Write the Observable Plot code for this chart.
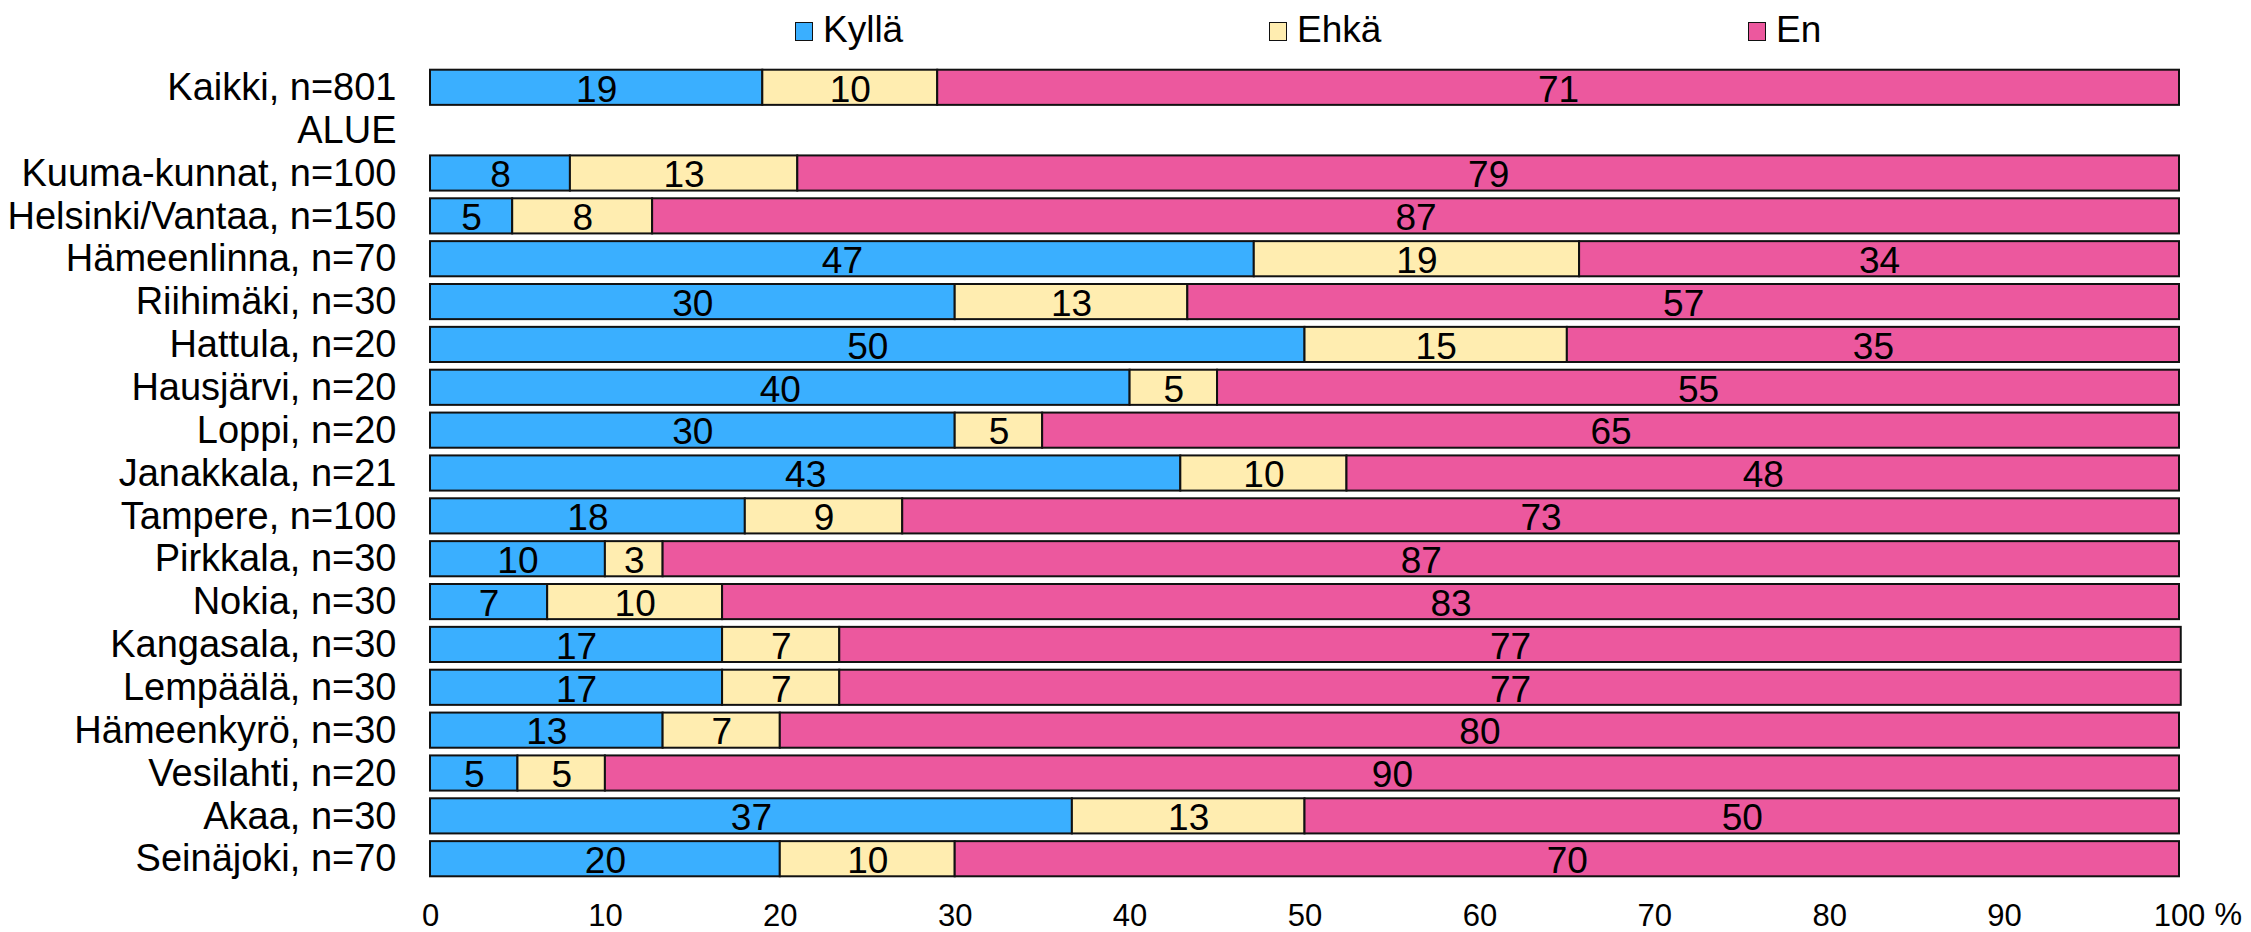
<!DOCTYPE html>
<html>
<head>
<meta charset="utf-8">
<script src="https://cdn.jsdelivr.net/npm/d3@7"></script>
<script src="https://cdn.jsdelivr.net/npm/@observablehq/plot@0.6"></script>
<style>
  html, body { margin: 0; padding: 0; background: #fff; }
  #wrap { position: relative; width: 2251px; height: 932px; font-family: "Liberation Sans", Arial, sans-serif; }
  #legend { position: absolute; top: 0; left: 0; width: 2251px; height: 60px; }
  .item { position: absolute; top: 8px; display: flex; align-items: center; font-size: 37px; color: #000; line-height: 44px; }
  .sw { width: 16px; height: 17px; border: 1.5px solid #111; margin-right: 10px; margin-top: 3px; }
  #chart { position: absolute; top: 0; left: 0; }
</style>
</head>
<body>
<div id="wrap">
  <div id="chart"></div>
  <div id="legend"></div>
</div>
<script>
// Categories (rows, top to bottom); "ALUE" is a heading row without data
const rows = [
  "Kaikki, n=801", "ALUE", "Kuuma-kunnat, n=100", "Helsinki/Vantaa, n=150",
  "Hämeenlinna, n=70", "Riihimäki, n=30", "Hattula, n=20", "Hausjärvi, n=20",
  "Loppi, n=20", "Janakkala, n=21", "Tampere, n=100", "Pirkkala, n=30",
  "Nokia, n=30", "Kangasala, n=30", "Lempäälä, n=30", "Hämeenkyrö, n=30",
  "Vesilahti, n=20", "Akaa, n=30", "Seinäjoki, n=70"
];
const dataRows = [
  "Kaikki, n=801", "Kuuma-kunnat, n=100", "Helsinki/Vantaa, n=150",
  "Hämeenlinna, n=70", "Riihimäki, n=30", "Hattula, n=20", "Hausjärvi, n=20",
  "Loppi, n=20", "Janakkala, n=21", "Tampere, n=100", "Pirkkala, n=30",
  "Nokia, n=30", "Kangasala, n=30", "Lempäälä, n=30", "Hämeenkyrö, n=30",
  "Vesilahti, n=20", "Akaa, n=30", "Seinäjoki, n=70"
];
const series = ["Kyllä", "Ehkä", "En"];
const kylla = [19, 8, 4.7, 47.1, 30, 50, 40, 30, 42.9, 18, 10, 6.7, 16.7, 16.7, 13.3, 5, 36.7, 20];
const ehka  = [10, 13, 8, 18.6, 13.3, 15, 5, 5, 9.5, 9, 3.3, 10, 6.7, 6.7, 6.7, 5, 13.3, 10];
const en    = [71, 79, 87.3, 34.3, 56.7, 35, 55, 65, 47.6, 73, 86.7, 83.3, 76.7, 76.7, 80, 90, 50, 70];
const colors = ["#3AAFFF", "#FFEDB0", "#EC589E"];
const xTicks = [0, 10, 20, 30, 40, 50, 60, 70, 80, 90, 100];

const values = [kylla, ehka, en];
const data = [];
dataRows.forEach((r, i) => {
  series.forEach((s, j) => data.push({row: r, cat: s, value: values[j][i]}));
});

const font = "Liberation Sans, Arial, sans-serif";

const chart = Plot.plot({
  width: 2251,
  height: 932,
  marginTop: 62,
  marginBottom: 48,
  marginLeft: 430,
  marginRight: 72,
  style: {fontFamily: font, background: "#fff", color: "#000"},
  x: {domain: [0, 100], ticks: xTicks},
  y: {domain: rows, padding: 0.18, round: false, label: null},
  color: {domain: series, range: colors},
  marks: [
    Plot.barX(data, Plot.stackX({x: "value", y: "row", fill: "cat", stroke: "#111", strokeWidth: 2})),
    Plot.text(data, Plot.stackX({
      x: "value", y: "row", text: d => String(Math.round(d.value)),
      fontSize: 37, fill: "#000", dy: 2
    })),
    Plot.axisY({tickSize: 0, tickPadding: 34, fontSize: 38, label: null}),
    Plot.axisX({ticks: xTicks, tickSize: 0, tickPadding: 19, fontSize: 31, label: null, tickFormat: d => String(d)}),
    Plot.text(["%"], {x: () => 100, frameAnchor: "bottom", textAnchor: "start", dx: 35, dy: 40, fontSize: 31, fill: "#000"})
  ]
});
document.getElementById("chart").appendChild(chart);

// Legend (HTML, above the plot area)
const legendLeft = [795, 1269, 1748];
const legend = document.getElementById("legend");
series.forEach((s, i) => {
  const it = document.createElement("div");
  it.className = "item";
  it.style.left = legendLeft[i] + "px";
  const sw = document.createElement("div");
  sw.className = "sw";
  sw.style.background = colors[i];
  const t = document.createElement("span");
  t.textContent = s;
  it.appendChild(sw); it.appendChild(t);
  legend.appendChild(it);
});
</script>
</body>
</html>
